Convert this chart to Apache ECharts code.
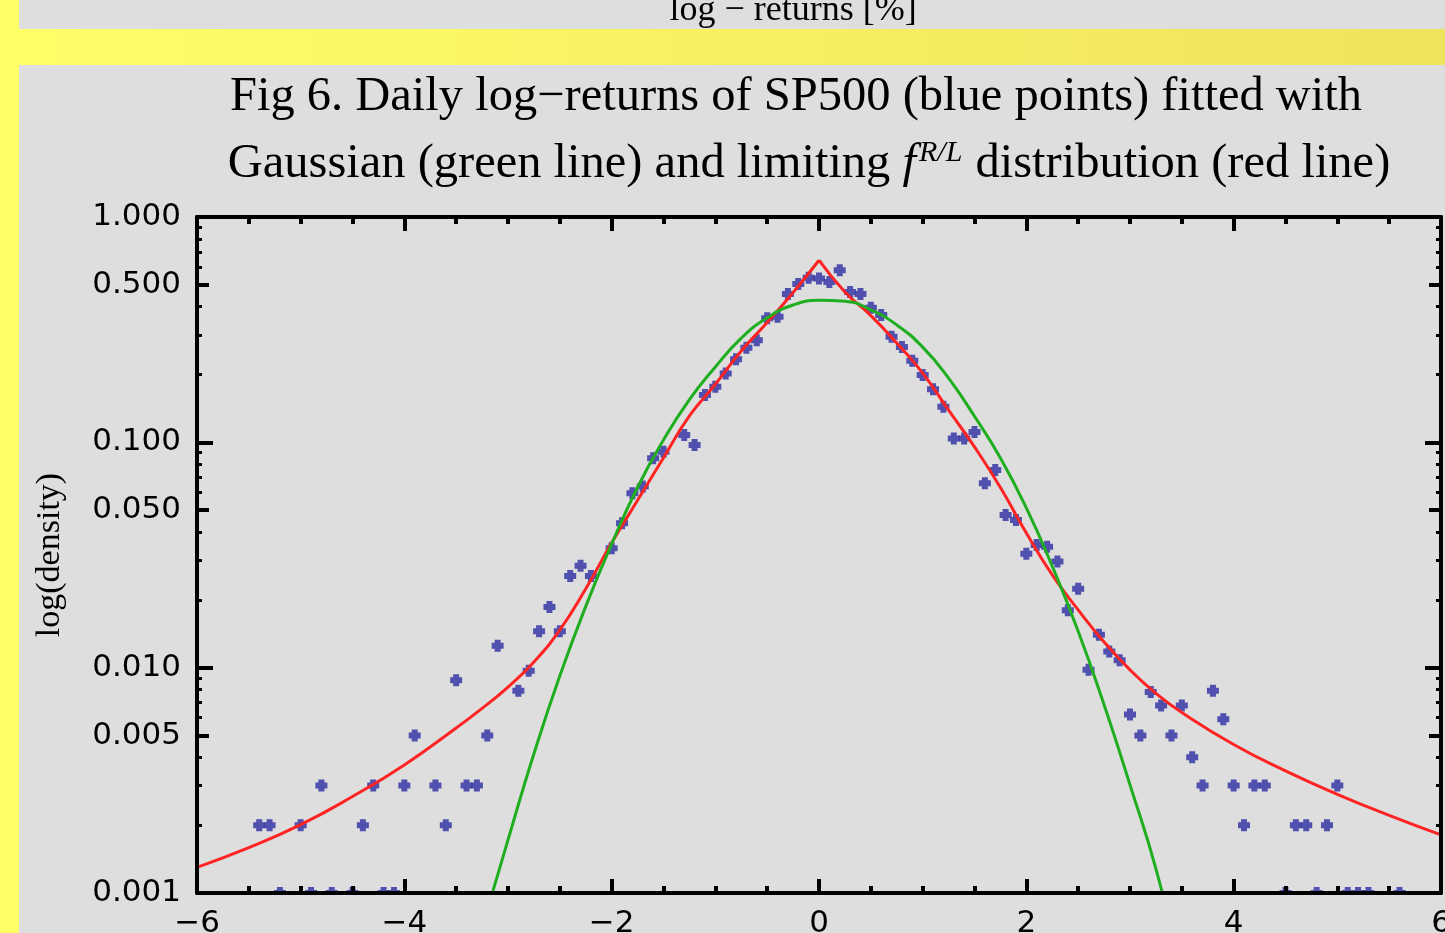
<!DOCTYPE html>
<html>
<head>
<meta charset="utf-8">
<title>Daily log-returns of SP500</title>
<script src="https://cdn.jsdelivr.net/npm/echarts@6/dist/echarts.min.js"></script>
<style>
  html, body { margin: 0; padding: 0; overflow: hidden; background: #fbf866; }
  #chart { width: 1445px; height: 933px; }
</style>
</head>
<body>
<div id="chart"></div>
<script>
// Histogram of daily log-returns (%), bin width 0.1
const binCenters = [
  -5.4, -5.3, -5.2, -5.0, -4.9, -4.8, -4.7, -4.5, -4.4, -4.3, -4.2, -4.1, -4.0, -3.9,
  -3.7, -3.6, -3.5, -3.4, -3.3, -3.2, -3.1, -2.9, -2.8, -2.7, -2.6, -2.5, -2.4, -2.3,
  -2.2, -2.0, -1.9, -1.8, -1.7, -1.6, -1.5, -1.3, -1.2, -1.1, -1.0, -0.9, -0.8, -0.7,
  -0.6, -0.5, -0.4, -0.3, -0.2, -0.1, 0.0, 0.1, 0.2, 0.3, 0.4, 0.5, 0.6, 0.7,
  0.8, 0.9, 1.0, 1.1, 1.2, 1.3, 1.4, 1.5, 1.6, 1.7, 1.8, 1.9, 2.0, 2.1,
  2.2, 2.3, 2.4, 2.5, 2.6, 2.7, 2.8, 2.9, 3.0, 3.1, 3.2, 3.3, 3.4, 3.5,
  3.6, 3.7, 3.8, 3.9, 4.0, 4.1, 4.2, 4.3, 4.5, 4.6, 4.7, 4.8, 4.9, 5.0,
  5.1, 5.2, 5.3, 5.6
];
const binDensity = [
  0.002, 0.002, 0.001, 0.002, 0.001, 0.003, 0.001, 0.001, 0.002, 0.003, 0.001, 0.001, 0.003, 0.005,
  0.003, 0.002, 0.0088, 0.003, 0.003, 0.005, 0.0125, 0.0079, 0.0097, 0.0145, 0.0186, 0.0145, 0.0255, 0.0283,
  0.0255, 0.0339, 0.0437, 0.0594, 0.0636, 0.0849, 0.0909, 0.1077, 0.0973, 0.162, 0.1765, 0.2023, 0.234, 0.263,
  0.284, 0.355, 0.361, 0.455, 0.504, 0.538, 0.534, 0.515, 0.581, 0.465, 0.455, 0.396, 0.367, 0.294,
  0.265, 0.230, 0.199, 0.172, 0.144, 0.104, 0.104, 0.111, 0.0658, 0.0754, 0.0476, 0.0452, 0.032, 0.035,
  0.0344, 0.0296, 0.018, 0.0224, 0.0098, 0.014, 0.0118, 0.0108, 0.0062, 0.005, 0.0078, 0.0068, 0.005, 0.0068,
  0.004, 0.003, 0.0079, 0.0059, 0.003, 0.002, 0.003, 0.003, 0.001, 0.002, 0.002, 0.001, 0.002, 0.003,
  0.001, 0.001, 0.001, 0.001
];

// Gaussian fit (green)
const gaussX = [-3.25, -3, -2.75, -2.5, -2.25, -2, -1.75, -1.5, -1.25, -1, -0.75, -0.5, -0.25, 0,
  0.25, 0.5, 0.75, 1, 1.25, 1.5, 1.75, 2, 2.25, 2.5, 2.75, 3, 3.25, 3.5];
const gaussY = [0.0007, 0.00172, 0.00415, 0.0092, 0.0187, 0.0354, 0.0632, 0.1025, 0.1546, 0.216, 0.290, 0.357, 0.407, 0.427,
  0.423, 0.387, 0.332, 0.2645, 0.1928, 0.1305, 0.0852, 0.0512, 0.0282, 0.0145, 0.00685, 0.00302, 0.00128, 0.00044];

// Limiting f^{R/L} distribution (red), cusp at 0
const fitX = [-6, -5.5, -5, -4.5, -4, -3.5, -3.25, -3, -2.75, -2.5, -2.25, -2, -1.75, -1.5, -1.25, -1, -0.75, -0.5, -0.25, 0,
  0.25, 0.5, 0.75, 1, 1.25, 1.5, 1.75, 2, 2.25, 2.5, 2.75, 3, 3.25, 3.5, 4, 4.5, 5, 5.5, 6];
const fitY = [0.00130, 0.00159, 0.00201, 0.00268, 0.00370, 0.00540, 0.00660, 0.00820, 0.0106, 0.0147, 0.0224, 0.0358, 0.0553, 0.0855, 0.131, 0.181, 0.2545, 0.340, 0.462, 0.643,
  0.465, 0.365, 0.276, 0.203, 0.139, 0.0954, 0.0630, 0.0396, 0.0258, 0.01805, 0.0130, 0.00978, 0.00769, 0.00632, 0.00456, 0.00348, 0.00274, 0.00221, 0.00181];

// Frame ticks of the logarithmic density axis
const yLabelTicks = [0.001, 0.005, 0.01, 0.05, 0.1, 0.5, 1];
const yDecadeTicks = [0.001, 0.01, 0.1, 1];
const yHalfTicks = [0.005, 0.05, 0.5];
const yMinorTicks = [0.002, 0.003, 0.004, 0.006, 0.007, 0.008, 0.009,
  0.02, 0.03, 0.04, 0.06, 0.07, 0.08, 0.09,
  0.2, 0.3, 0.4, 0.6, 0.7, 0.8, 0.9];

const titleLine1 = 'Fig 6. Daily log\u2212returns of SP500 (blue points) fitted with';
const titleLine2 = '{a|Gaussian (green line) and limiting }{i|f}{s|R/L}{a| distribution (red line)}';
const topCaption = 'log \u2212 returns [%]';

const GRAY = '#dedede';
const SERIF = '"Liberation Serif", "Times New Roman", serif';
const TICKFONT = '"DejaVu Sans", Arial, sans-serif';

const lg = v => Math.log10(v);
const pairs = (xs, ys) => xs.map((x, i) => [x, ys[i]]);
const peakIdx = fitX.indexOf(0);
const fitLeft = pairs(fitX, fitY).slice(0, peakIdx + 1);
const fitRight = pairs(fitX, fitY).slice(peakIdx);

// One frame side of the density axis: a set of ticks with a given length
function densityTicks(position, values, length, width, extra) {
  return Object.assign({
    type: 'value', min: -3, max: 0, position: position, z: 5,
    axisLine: { show: false, onZero: false },
    axisTick: { show: true, inside: true, length: length, customValues: values.map(lg),
      lineStyle: { color: '#000', width: width } },
    axisLabel: { show: false },
    splitLine: { show: false }
  }, extra || {});
}

function xFrame(position, showLabels) {
  return {
    type: 'value', min: -6, max: 6, interval: 2, position: position, z: 5,
    axisLine: { show: true, onZero: false, lineStyle: { color: '#000', width: 4 } },
    axisTick: { show: true, inside: true, length: 14, lineStyle: { color: '#000', width: 4 } },
    minorTick: { show: true, splitNumber: 4, length: 7, lineStyle: { color: '#000', width: 4 } },
    splitLine: { show: false },
    minorSplitLine: { show: false },
    axisLabel: {
      show: showLabels, margin: 15, color: '#000', fontFamily: TICKFONT, fontSize: 31,
      formatter: v => (v < 0 ? '\u2212' + Math.abs(v) : String(v))
    }
  };
}

const chart = echarts.init(document.getElementById('chart'), null, { renderer: 'canvas' });

const lineCommon = {
  type: 'line', xAxisIndex: 0, yAxisIndex: 0,
  smooth: 0.5, showSymbol: false, symbol: 'none'
};

chart.setOption({
  animation: false,
  backgroundColor: 'transparent',
  title: [
    {
      text: titleLine1, left: 791, top: 68, textAlign: 'center',
      textStyle: { fontFamily: SERIF, fontSize: 48.5, fontWeight: 'normal', color: '#000' }
    },
    {
      text: titleLine2, left: 804, top: 131, textAlign: 'center',
      textStyle: {
        fontFamily: SERIF, fontSize: 48.5, fontWeight: 'normal', color: '#000',
        rich: {
          a: { fontFamily: SERIF, fontSize: 48.5, color: '#000', lineHeight: 56 },
          i: { fontFamily: SERIF, fontSize: 48.5, fontStyle: 'italic', color: '#000', lineHeight: 56, padding: [0, 3, 0, 0] },
          s: { fontFamily: SERIF, fontSize: 30, fontStyle: 'italic', color: '#000', lineHeight: 30, padding: [0, 1, 22, 0] }
        }
      }
    }
  ],
  graphic: [
    {
      type: 'rect', z: -10, silent: true,
      shape: { x: 0, y: 0, width: 1445, height: 933 },
      style: { fill: new echarts.graphic.LinearGradient(0, 0, 1, 0, [
        { offset: 0, color: '#ffff68' }, { offset: 1, color: '#efe35c' }]) }
    },
    { type: 'rect', z: -9, silent: true, shape: { x: 0, y: 0, width: 19, height: 933 }, style: { fill: '#ffff66' } },
    { type: 'rect', z: -8, silent: true, shape: { x: 19, y: 0, width: 1426, height: 29 }, style: { fill: GRAY } },
    { type: 'rect', z: -8, silent: true, shape: { x: 19, y: 65, width: 1426, height: 868 }, style: { fill: GRAY } },
    // panel strip below the frame, keeps the bottom-row markers inside the frame
    { type: 'rect', z: 3, silent: true, shape: { x: 190, y: 895, width: 1255, height: 40 }, style: { fill: GRAY } },
    {
      type: 'text', z: 4, silent: true, x: 793, y: 29,
      style: { text: topCaption, font: '36px ' + SERIF, fill: '#000',
        textAlign: 'center', align: 'center', textVerticalAlign: 'bottom', verticalAlign: 'bottom' }
    }
  ],
  grid: { left: 197, right: 4, top: 217, bottom: 40, containLabel: false, outerBoundsMode: 'none' },
  xAxis: [xFrame('bottom', true), xFrame('top', false)],
  yAxis: [
    // data axis
    { type: 'log', logBase: 10, min: 0.001, max: 1, show: false },
    // left frame: line, decade ticks and labels
    densityTicks('left', yDecadeTicks, 16, 4, {
      axisLine: { show: true, onZero: false, lineStyle: { color: '#000', width: 4 } },
      axisLabel: {
        show: true, customValues: yLabelTicks.map(lg), margin: 16,
        color: '#000', fontFamily: TICKFONT, fontSize: 31,
        formatter: v => Math.pow(10, v).toFixed(3)
      },
      name: 'log(density)', nameLocation: 'middle', nameRotate: 90, nameGap: 130,
      nameTextStyle: { fontFamily: SERIF, fontSize: 34, color: '#000' }
    }),
    densityTicks('left', yHalfTicks, 12, 4),
    densityTicks('left', yMinorTicks, 5, 3),
    // right frame
    densityTicks('right', yDecadeTicks, 16, 4, {
      axisLine: { show: true, onZero: false, lineStyle: { color: '#000', width: 4 } }
    }),
    densityTicks('right', yHalfTicks, 12, 4),
    densityTicks('right', yMinorTicks, 5, 3)
  ],
  series: [
    {
      type: 'scatter', name: 'SP500', xAxisIndex: 0, yAxisIndex: 0, z: 2,
      symbol: 'path://M1,0H3V1H4V3H3V4H1V3H0V1H1Z', symbolSize: 12,
      itemStyle: { color: '#4040a8', opacity: 0.9 },
      data: pairs(binCenters, binDensity)
    },
    Object.assign({ name: 'fR', z: 2.2, data: fitLeft, lineStyle: { color: '#ff2424', width: 3 } }, lineCommon),
    Object.assign({ name: 'fL', z: 2.2, data: fitRight, lineStyle: { color: '#ff2424', width: 3 } }, lineCommon),
    Object.assign({ name: 'Gaussian', z: 2.4, data: pairs(gaussX, gaussY), lineStyle: { color: '#1fae1f', width: 3 } }, lineCommon)
  ]
});
</script>
</body>
</html>
